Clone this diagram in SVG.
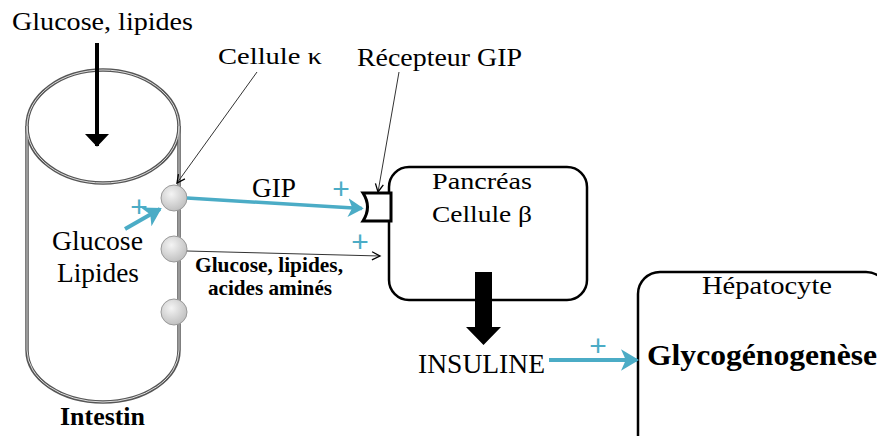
<svg xmlns="http://www.w3.org/2000/svg" width="877" height="436" viewBox="0 0 877 436">
<style>
.t{font-family:"Liberation Serif","Times New Roman",serif;fill:#000}
.b{font-weight:bold}
.plus{font-family:"Liberation Sans",Arial,sans-serif;fill:#4bacc6;font-size:30px;text-anchor:middle}
.cyl{fill:none;stroke:#555;stroke-width:3.5}
.cylin{fill:none;stroke:#ddd;stroke-width:1}
.box{fill:#fff;stroke:#000;stroke-width:2.5}
.cyan{stroke:#4bacc6;fill:none}
.thin{stroke:#333;stroke-width:1;fill:none}
</style>
<defs>
<radialGradient id="g" cx="0.4" cy="0.35" r="0.7">
<stop offset="0" stop-color="#f4f4f4"/>
<stop offset="1" stop-color="#bdbdbd"/>
</radialGradient>
<marker id="ac" markerWidth="6" markerHeight="6" refX="4" refY="3" orient="auto" markerUnits="strokeWidth">
<path d="M0,0.3 L4.5,3 L0,5.7 L1.2,3 Z" fill="#4bacc6"/>
</marker>
<marker id="ab" markerWidth="12" markerHeight="12" refX="9" refY="5" orient="auto" markerUnits="userSpaceOnUse">
<path d="M1,1 L9,5 L1,9" fill="none" stroke="#000" stroke-width="1.3"/>
</marker>
<marker id="ak" markerWidth="8" markerHeight="8" refX="3" refY="3" orient="auto" markerUnits="strokeWidth">
<path d="M0,0 L3.2,3 L0,6 Z" fill="#000"/>
</marker>
</defs>
<g id="intestin">
<path class="cyl" d="M27,126 L27,350 A76,52 0 0 0 179,350 L179,126"/>
<ellipse class="cyl" cx="103" cy="126.5" rx="76" ry="56.5"/>
<path class="cylin" d="M27,126 L27,350 A76,52 0 0 0 179,350 L179,126"/>
<ellipse class="cylin" cx="103" cy="126.5" rx="76" ry="56.5"/>
<circle cx="174" cy="198" r="13" fill="url(#g)" stroke="#999" stroke-width="1"/>
<circle cx="174" cy="249" r="13" fill="url(#g)" stroke="#999" stroke-width="1"/>
<circle cx="174" cy="312" r="13" fill="url(#g)" stroke="#999" stroke-width="1"/>
<text class="t" x="52" y="250" font-size="27" textLength="91" lengthAdjust="spacingAndGlyphs">Glucose</text>
<text class="t" x="57" y="282" font-size="27" textLength="82" lengthAdjust="spacingAndGlyphs">Lipides</text>
<text class="t b" x="60" y="425" font-size="26" textLength="85" lengthAdjust="spacingAndGlyphs">Intestin</text>
</g>
<g id="pancreas">
<rect class="box" x="389" y="167" width="198" height="133" rx="20"/>
<text class="t" x="482" y="189" font-size="24" text-anchor="middle" textLength="100" lengthAdjust="spacingAndGlyphs">Pancréas</text>
<text class="t" x="482" y="222" font-size="24" text-anchor="middle" textLength="100" lengthAdjust="spacingAndGlyphs">Cellule β</text>
</g>
<g id="recepteur">
<path d="M363,193 L391,193 L391,221 L363,221 Q372,207 363,193 Z" fill="#fff" stroke="#000" stroke-width="3"/>
</g>
<g id="hepatocyte">
<rect class="box" x="638" y="272" width="250" height="200" rx="22"/>
<text class="t" x="767" y="294" font-size="25" text-anchor="middle" textLength="130" lengthAdjust="spacingAndGlyphs">Hépatocyte</text>
<text class="t b" x="647" y="365" font-size="29" textLength="230" lengthAdjust="spacingAndGlyphs">Glycogénogenèse</text>
</g>
<g id="labels">
<text class="t" x="12" y="30" font-size="25" textLength="181" lengthAdjust="spacingAndGlyphs">Glucose, lipides</text>
<text class="t" x="218" y="64" font-size="24" textLength="104" lengthAdjust="spacingAndGlyphs">Cellule κ</text>
<text class="t" x="357" y="66" font-size="26" textLength="165" lengthAdjust="spacingAndGlyphs">Récepteur GIP</text>
<text class="t" x="252" y="197" font-size="27" textLength="44" lengthAdjust="spacingAndGlyphs">GIP</text>
<text class="t b" x="269" y="272" font-size="21" text-anchor="middle" textLength="148" lengthAdjust="spacingAndGlyphs">Glucose, lipides,</text>
<text class="t b" x="270" y="295" font-size="21" text-anchor="middle" textLength="124" lengthAdjust="spacingAndGlyphs">acides aminés</text>
<text class="t" x="418" y="373" font-size="27" textLength="127" lengthAdjust="spacingAndGlyphs">INSULINE</text>
<text class="plus" x="139" y="217">+</text>
<text class="plus" x="341" y="199">+</text>
<text class="plus" x="360" y="252">+</text>
<text class="plus" x="598" y="356">+</text>
</g>
<g id="connectors">
<line x1="97" y1="43" x2="97" y2="146" stroke="#000" stroke-width="4" marker-end="url(#ak)"/>
<line class="thin" x1="257" y1="72" x2="177" y2="183" marker-end="url(#ab)"/>
<line class="thin" x1="399" y1="72" x2="378" y2="192" marker-end="url(#ab)"/>
<line class="cyan" x1="125" y1="229" x2="160" y2="209" stroke-width="4" marker-end="url(#ac)"/>
<line class="cyan" x1="187" y1="198" x2="362" y2="208.5" stroke-width="3.5" marker-end="url(#ac)"/>
<line class="thin" x1="187" y1="251" x2="380" y2="256" stroke="#222" stroke-width="1.3" marker-end="url(#ab)"/>
<polygon points="475,272 492,272 492,327 501,327 483.5,345 466,327 475,327" fill="#000"/>
<line class="cyan" x1="549" y1="360" x2="637" y2="360" stroke-width="4" marker-end="url(#ac)"/>
</g>
</svg>
